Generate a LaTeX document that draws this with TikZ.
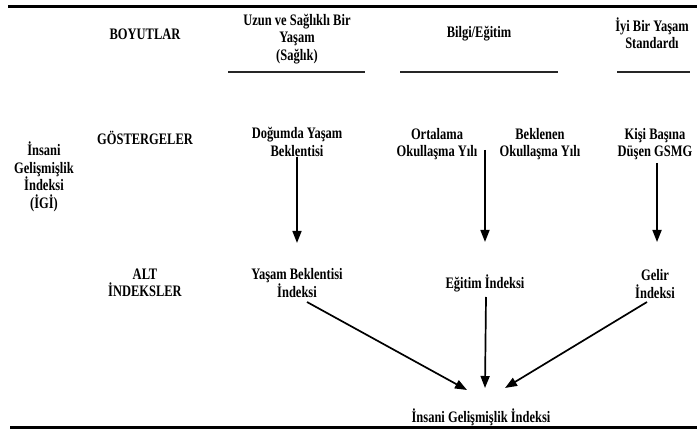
\documentclass[tikz,border=0pt]{standalone}
\usepackage{fontspec}
\setmainfont{Liberation Serif}[FakeStretch=0.78]
\usetikzlibrary{arrows.meta}
\begin{document}
\begin{tikzpicture}[x=1pt,y=-1pt,
  lbl/.style={inner sep=0pt, align=center, font=\bfseries\fontsize{16}{17.5}\selectfont},
  arr/.style={line width=1.7pt, -{Triangle[length=12pt,width=9pt]}},
  rule/.style={line width=3pt},
  subrule/.style={line width=2.2pt, draw=black!85}]
\useasboundingbox (0,0) rectangle (697,430);
% rules
\draw[rule] (8,7) -- (697,7);
\draw[rule] (10,428) -- (697,428);
% headers
\node[lbl] (boy) at (145,34) {BOYUTLAR};
\node[lbl] (uzun) at (297,39) {Uzun ve Sağlıklı Bir\\Yaşam\\(Sağlık)};
\node[lbl] (bil) at (479,34) {Bilgi/Eğitim};
\node[lbl] (iyi) at (652,33) {İyi Bir Yaşam\\Standardı};
\draw[subrule] (228,72) -- (365,72);
\draw[subrule] (400,72) -- (558,72);
\draw[subrule] (617,72) -- (690,72);
% left
\node[lbl] (igi) at (44,177) {İnsani\\Gelişmişlik\\İndeksi\\(İGİ)};
\node[lbl] (gos) at (145,138) {GÖSTERGELER};
\node[lbl] (alt) at (145,283) {ALT\\İNDEKSLER};
% indicators
\node[lbl] (dog) at (297,142) {Doğumda Yaşam\\Beklentisi};
\node[lbl] (ort) at (437,144) {Ortalama\\Okullaşma Yılı};
\node[lbl] (bek) at (540,144) {Beklenen\\Okullaşma Yılı};
\node[lbl] (kis) at (655,144) {Kişi Başına\\Düşen GSMG};
% sub-indices
\node[lbl] (yi) at (297,283) {Yaşam Beklentisi\\İndeksi};
\node[lbl] (egi) at (485,283) {Eğitim İndeksi};
\node[lbl] (gel) at (655,284) {Gelir\\İndeksi};
% final
\node[lbl] (hdi) at (481,417) {İnsani Gelişmişlik İndeksi};
% coordinates
\coordinate (edtop) at (485,150);
\coordinate (e1) at (297,243);
\coordinate (e2) at (485,242);
\coordinate (e3) at (657,242);
\coordinate (s3) at (657,163);
\coordinate (t1) at (467,390);
\coordinate (t2) at (485,388);
\coordinate (t3) at (505,388);
\coordinate (y1) at (307,302);
\coordinate (y2) at (486,297);
\coordinate (y3) at (647,302);
% arrows
\draw[arr] (dog.south) -- (e1);
\draw[arr] (edtop) -- (e2);
\draw[arr] (s3) -- (e3);
\draw[arr] (y1) -- (t1);
\draw[arr] (y2) -- (t2);
\draw[arr] (y3) -- (t3);
\end{tikzpicture}
\end{document}
